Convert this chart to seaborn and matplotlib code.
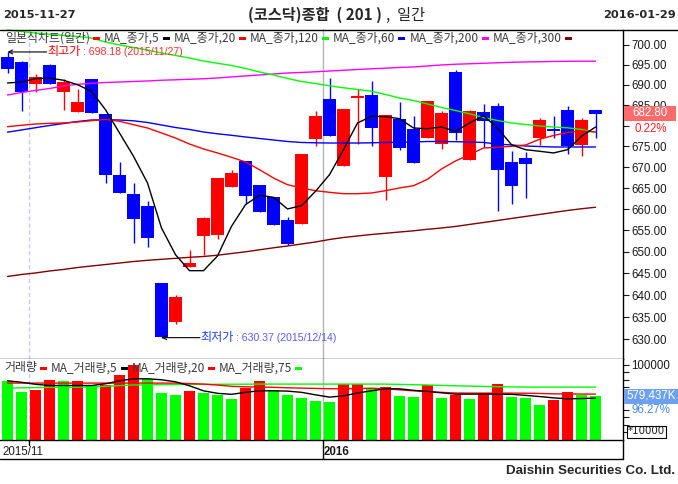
import numpy as np
import pandas as pd
import matplotlib
matplotlib.use("Agg")
import matplotlib.pyplot as plt
from matplotlib.patches import Rectangle
from matplotlib.lines import Line2D
from matplotlib.ticker import FixedLocator, NullLocator, FixedFormatter
import seaborn as sns

# ---------------- data ----------------
dates = ["2015-11-27", "2015-11-30",
         "2015-12-01", "2015-12-02", "2015-12-03", "2015-12-04", "2015-12-07",
         "2015-12-08", "2015-12-09", "2015-12-10", "2015-12-11", "2015-12-14",
         "2015-12-15", "2015-12-16", "2015-12-17", "2015-12-18", "2015-12-21",
         "2015-12-22", "2015-12-23", "2015-12-24", "2015-12-28", "2015-12-29",
         "2015-12-30",
         "2016-01-04", "2016-01-05", "2016-01-06", "2016-01-07", "2016-01-08",
         "2016-01-11", "2016-01-12", "2016-01-13", "2016-01-14", "2016-01-15",
         "2016-01-18", "2016-01-19", "2016-01-20", "2016-01-21", "2016-01-22",
         "2016-01-25", "2016-01-26", "2016-01-27", "2016-01-28", "2016-01-29"]

open_ = [696.86, 695.68, 690.30, 694.94, 688.33, 683.35, 691.47, 682.86, 668.20, 663.61,
         660.83, 642.88, 633.97, 646.57, 653.78, 653.94, 665.34, 671.55, 665.81, 662.96,
         657.46, 656.52, 676.78, 686.61, 670.35, 686.86, 687.52, 667.65, 681.72, 679.28,
         677.02, 675.65, 693.20, 671.72, 683.35, 684.81, 671.24, 672.20, 677.02, 679.28,
         683.91, 675.40, 683.91]
high = [698.18, 695.93, 692.63, 695.26, 691.39, 688.92, 691.47, 682.86, 671.24, 666.22,
        662.01, 642.88, 640.13, 650.44, 658.24, 667.41, 669.39, 671.55, 665.81, 662.96,
        658.24, 673.16, 683.52, 691.72, 684.08, 689.07, 690.90, 682.55, 685.80, 682.30,
        686.12, 683.67, 693.76, 683.91, 685.31, 685.55, 673.82, 673.65, 681.89, 682.30,
        684.74, 681.89, 683.91]
low = [692.87, 683.67, 688.18, 690.30, 683.84, 683.35, 683.18, 666.22, 663.84, 652.07,
       651.14, 630.37, 633.39, 646.57, 649.35, 653.00, 665.34, 661.47, 659.42, 656.36,
       651.54, 656.52, 675.03, 677.58, 670.35, 675.65, 675.03, 662.25, 674.20, 671.00,
       677.02, 674.44, 676.61, 671.72, 674.85, 659.65, 661.24, 662.66, 675.40, 677.02,
       673.24, 672.75, 677.02]
close = [694.02, 688.33, 691.97, 690.30, 690.73, 685.80, 683.18, 668.20, 663.84, 657.70,
         653.24, 630.50, 639.60, 647.36, 658.00, 667.41, 668.61, 663.20, 659.42, 656.36,
         651.84, 673.16, 682.38, 677.58, 684.08, 687.35, 679.45, 682.55, 674.61, 671.00,
         686.12, 683.18, 678.31, 683.60, 681.23, 669.39, 665.57, 670.83, 681.48, 678.79,
         675.16, 681.30, 682.80]

ma5 = [690.47, 690.72, 691.54, 691.72, 691.15, 690.05, 688.43, 683.91, 678.24, 672.61,
       666.22, 655.58, 649.35, 645.65, 645.65, 649.05, 655.98, 661.07, 663.30, 662.82,
       660.06, 660.83, 664.24, 668.20, 674.20, 680.67, 682.30, 682.21, 681.72, 679.45,
       679.28, 679.69, 678.65, 680.67, 682.45, 679.45, 675.40, 674.20, 673.82, 673.41,
       674.20, 677.44, 679.69]
ma20 = [679.77, 680.11, 680.42, 680.59, 680.67, 680.91, 681.23, 681.57, 681.08, 680.25,
        679.45, 678.24, 677.02, 675.57, 674.37, 673.41, 672.37, 671.24, 669.39, 667.41,
        665.81, 665.03, 664.38, 664.00, 663.67, 663.67, 663.84, 664.38, 665.03, 665.57,
        667.10, 669.56, 671.48, 672.99, 674.61, 674.78, 675.02, 675.33, 676.71, 677.63,
        678.36, 678.73, 678.48]
ma60 = [678.44, 678.97, 679.52, 680.06, 680.54, 681.03, 681.40, 681.45, 681.40, 681.20,
        680.79, 680.18, 679.57, 679.09, 678.48, 678.04, 677.68, 677.27, 676.90, 676.54,
        676.18, 675.94, 675.86, 675.81, 675.81, 675.81, 675.86, 675.94, 675.98, 676.06,
        676.18, 676.18, 676.13, 676.06, 675.94, 675.57, 675.33, 675.09, 674.97, 674.85,
        674.85, 674.85, 674.85]
ma120 = [703.69, 703.31, 702.93, 702.61, 702.31, 702.06, 701.68, 700.68, 699.93, 699.30,
         698.67, 697.92, 697.30, 696.68, 695.93, 695.36, 694.82, 694.07, 693.20, 692.46,
         691.59, 690.85, 690.35, 689.78, 689.29, 688.87, 688.43, 687.64, 686.78, 686.17,
         685.31, 684.45, 683.72, 682.91, 682.01, 681.28, 680.67, 680.30, 679.94, 679.69,
         679.50, 679.09, 678.41]
ma200 = [687.52, 688.13, 688.63, 689.12, 689.74, 690.15, 690.40, 690.60, 690.72, 690.85,
         690.97, 691.15, 691.27, 691.39, 691.52, 691.72, 691.97, 692.21, 692.46, 692.71,
         692.95, 693.08, 693.25, 693.44, 693.62, 693.82, 693.99, 694.14, 694.32, 694.44,
         694.69, 694.94, 695.12, 695.24, 695.36, 695.49, 695.61, 695.69, 695.74, 695.81,
         695.86, 695.88, 695.88]
ma300 = [644.31, 644.77, 645.12, 645.58, 645.93, 646.38, 646.73, 647.07, 647.42, 647.77,
         648.05, 648.28, 648.51, 648.74, 648.93, 649.23, 649.63, 650.02, 650.49, 650.95,
         651.38, 651.84, 652.31, 652.89, 653.36, 653.71, 654.06, 654.34, 654.64, 654.92,
         655.28, 655.58, 655.94, 656.41, 656.87, 657.34, 657.82, 658.29, 658.76, 659.23,
         659.70, 660.11, 660.46]

# volume in units of 10,000 shares
volume = [77714, 64384, 67050, 79047, 77714, 77981, 72382, 72649, 85712, 99500,
          80913, 63051, 60385, 65717, 63051, 60385, 55053, 69716, 77714, 67050,
          60385, 56386, 52387, 51054, 74248, 74515, 69716, 71049, 59052, 57719,
          72382, 56386, 60385, 54653, 62251, 74648, 57719, 56386, 46655, 53720,
          63984, 60189, 57943.7]
vma5 = [78647, 76648, 73982, 72382, 72382, 72382, 72382, 74648, 78647, 81313,
        81313, 79980, 77314, 71982, 65317, 61985, 60652, 63318, 65317, 65317,
        64917, 63318, 59985, 56919, 58652, 62384, 65317, 67983, 67983, 65984,
        64651, 62651, 60918, 60918, 60918, 60918, 60652, 59319, 57719, 55986,
        54653, 55053, 55586]
vma20 = [75581, 75581, 75581, 75581, 75581, 75581, 75581, 75581, 75581, 75581,
         75581, 75581, 75581, 74915, 74248, 72915, 71316, 70649, 70382, 69983,
         69316, 68916, 68516, 68116, 67983, 68250, 68783, 67983, 66650, 65317,
         63984, 63318, 62384, 62251, 62251, 62251, 62251, 62118, 61851, 61318,
         61185, 61051, 60918]
vma75 = [68916, 69316, 69583, 69849, 69983, 70116, 70249, 71316, 72249, 73048,
         73315, 73582, 73715, 73848, 73982, 73982, 74115, 74115, 74248, 74248,
         74248, 74248, 74248, 74248, 74248, 74248, 74248, 74248, 73848, 73448,
         73048, 72515, 71982, 71582, 71182, 70782, 70516, 70249, 70249, 70249,
         70249, 70249, 70249]

price_ticks = [630, 635, 640, 645, 650, 655, 660, 665, 670, 675, 680, 685, 690, 695, 700]
date_labels = ["2015/11", "2016"]

# ---------------- styling ----------------
sns.set_style("white")
CJK = ["Noto Sans CJK KR", "DejaVu Sans"]
plt.rcParams["font.family"] = CJK

W, H = 678, 484
fig = plt.figure(figsize=(W / 100, H / 100), dpi=100)
fig.patch.set_facecolor("white")


def fx(px):
    return px / W


def fy(py):
    return 1 - py / H


RIGHT = 622.7
P_TOP, P_BOT, V_BOT = 29.5, 358.7, 440.0
ax_p = fig.add_axes([0, fy(P_BOT), fx(RIGHT), (P_BOT - P_TOP) / H])
ax_v = fig.add_axes([0, fy(V_BOT), fx(RIGHT), (V_BOT - P_BOT) / H])

n = len(close)
idx = np.arange(n)
df = pd.DataFrame({"i": idx, "date": dates, "open": open_, "high": high, "low": low,
                   "close": close, "ma5": ma5, "ma20": ma20, "ma60": ma60,
                   "ma120": ma120, "ma200": ma200, "ma300": ma300,
                   "vol": volume, "vma5": vma5, "vma20": vma20, "vma75": vma75})
XL = (-7.5 / 14, (RIGHT - 7.5) / 14)

# month / year separators
month_sep = [i - 0.5 for i in range(1, n) if dates[i][5:7] != dates[i - 1][5:7]]
for ax in (ax_p, ax_v):
    ax.axvline(month_sep[0], color="#C8C8F0", lw=1, ls=(0, (3, 2)), zorder=0)
    ax.axvline(month_sep[-1], color="#B4B4B4", lw=1, zorder=0)

# ---------------- price panel ----------------
ax_p.set_yscale("log")
up = df["close"] >= df["open"]
cols = np.where(up, "#FF0000", "#0000FF")
ax_p.vlines(df["i"], df["low"], df["high"], colors=cols, lw=1.0, zorder=2)
body_bottom = np.minimum(df["open"], df["close"])
body_h = np.maximum(np.abs(df["close"] - df["open"]), 0.25)
ax_p.bar(df["i"], body_h, bottom=body_bottom, width=0.93, color=cols, lw=0, zorder=3)

for col, c in [("ma300", "#800000"), ("ma200", "#FF00FF"), ("ma120", "#00FF00"),
               ("ma60", "#0000FF"), ("ma20", "#FF0000"), ("ma5", "#000000")]:
    sns.lineplot(data=df, x="i", y=col, color=c, lw=1.0, ax=ax_p, zorder=4)

ax_p.set_xlim(*XL)
ax_p.set_ylim(625.64, 703.81)
# the 680 level sits under the current-value badge, so its label stays blank
price_labels = ["" if t == 680 else f"{t:.2f}" for t in price_ticks]
ax_p.yaxis.set_major_locator(FixedLocator(price_ticks))
ax_p.yaxis.set_major_formatter(FixedFormatter(price_labels))
ax_p.yaxis.set_minor_locator(NullLocator())
ax_p.yaxis.tick_right()
ax_p.tick_params(axis="y", direction="out", length=4, width=0.8, pad=2,
                 labelsize=8.3, labelcolor="#1a1a1a", colors="#1a1a1a")
for lab in ax_p.get_yticklabels():
    lab.set_family("Liberation Sans")
ax_p.set_xticks([])
ax_p.set_xlabel("")
ax_p.set_ylabel("")
for s in ("top", "left"):
    ax_p.spines[s].set_visible(False)
for s in ("right", "bottom"):
    ax_p.spines[s].set_color("black")
    ax_p.spines[s].set_linewidth(1)

# high / low annotations
i_hi = int(np.argmax(high))
i_lo = int(np.argmin(low))
ax_p.annotate("", xy=(i_hi, high[i_hi]), xytext=(i_hi + 2.8, high[i_hi]),
              arrowprops=dict(arrowstyle="->", color="black", lw=0.8,
                              shrinkA=0, shrinkB=0, mutation_scale=7))
t1 = ax_p.text(i_hi + 2.85, high[i_hi], "최고가", color="#FF0000", fontsize=8.7,
               va="center", ha="left")
ax_p.annotate("", xy=(i_lo, low[i_lo]), xytext=(i_lo + 2.75, low[i_lo]),
              arrowprops=dict(arrowstyle="->", color="black", lw=0.8,
                              shrinkA=0, shrinkB=0, mutation_scale=7))
t2 = ax_p.text(i_lo + 2.8, low[i_lo], "최저가", color="#2040FF", fontsize=8.7,
               va="center", ha="left")
fig.canvas.draw()
r = fig.canvas.get_renderer()
for t, txt, c in [(t1, f": {high[i_hi]:.2f} (2015/11/27)", "#FF3030"),
                  (t2, f": {low[i_lo]:.2f} (2015/12/14)", "#5A5AFF")]:
    bb = t.get_window_extent(renderer=r)
    fig.text(fx(bb.x1 + 2), bb.y0 / H + bb.height / H / 2 - 0.5 / H, txt, color=c,
             fontsize=7.6, family="Liberation Sans", va="center", ha="left")

# ---------------- volume panel ----------------
vol_dir = ["dn"] + ["up" if volume[k] > volume[k - 1] else "dn" for k in range(1, n)]
df["vdir"] = vol_dir
sns.barplot(data=df, x="i", y="vol", hue="vdir", palette={"up": "#FF0000", "dn": "#00FF00"},
            dodge=False, width=0.84, errorbar=None, legend=False, ax=ax_v,
            linewidth=0, saturation=1)
for col, c in [("vma75", "#00FF00"), ("vma20", "#FF0000"), ("vma5", "#000000")]:
    sns.lineplot(data=df, x="i", y=col, color=c, lw=1.0, ax=ax_v, zorder=4)
ax_v.set_xlim(*XL)
ax_v.set_ylim(0, 107973)
vt = list(range(10000, 100001, 10000))
ax_v.yaxis.set_major_locator(FixedLocator(vt))
ax_v.yaxis.set_major_formatter(FixedFormatter([""] * 9 + ["100000"]))
ax_v.yaxis.tick_right()
ax_v.tick_params(axis="y", direction="out", length=4, width=0.8, pad=2,
                 labelsize=8.3, labelcolor="#1a1a1a", colors="#1a1a1a")
for lab in ax_v.get_yticklabels():
    lab.set_family("Liberation Sans")
ax_v.set_xticks([])
ax_v.set_xlabel("")
ax_v.set_ylabel("")
for s in ("top", "left"):
    ax_v.spines[s].set_visible(False)
for s in ("right", "bottom"):
    ax_v.spines[s].set_color("black")
    ax_v.spines[s].set_linewidth(1)

# ---------------- frame lines and date row ----------------
def fline(x0, y0, x1, y1, c="black", lw=1.0):
    fig.add_artist(Line2D([fx(x0), fx(x1)], [fy(y0), fy(y1)], color=c, lw=lw,
                          transform=fig.transFigure))


fline(0, 29.5, W, 29.5)
fline(RIGHT, V_BOT, RIGHT, 459)
fline(0, 459, RIGHT, 459)
px_month = 7.5 + 14 * month_sep[0]
px_year = 7.5 + 14 * month_sep[-1]
fline(px_month, V_BOT, px_month, 445)
fline(px_year, V_BOT, px_year, 459)
fig.text(fx(2), fy(452), date_labels[0], fontsize=8.3, family="Liberation Sans",
         color="#1a1a1a", va="center", ha="left")
fig.text(fx(px_year + 1), fy(452), date_labels[1], fontsize=8.3, family="Liberation Sans",
         color="#1a1a1a", va="center", ha="left", weight="bold")

# ---------------- header / footer ----------------
fig.text(fx(3), fy(15), dates[0], fontsize=8.2, weight="bold", family="DejaVu Sans",
         va="center", ha="left")
fig.text(fx(676), fy(15), dates[-1], fontsize=8.2, weight="bold", family="DejaVu Sans",
         va="center", ha="right")
th = fig.text(fx(248), fy(15), "(코스닥)종합  ( 201 )", fontsize=11, weight="bold",
              va="center", ha="left")
fig.canvas.draw()
bb = th.get_window_extent(renderer=fig.canvas.get_renderer())
fig.text(fx(bb.x1 + 4), fy(15), ",  일간", fontsize=11, va="center", ha="left")
fig.text(fx(675), fy(471), "Daishin Securities Co. Ltd.", fontsize=9.6, weight="bold",
         family="Liberation Sans", va="center", ha="right")

# ---------------- legends ----------------
def legend_row(items, x0, y, size):
    rr = fig.canvas.get_renderer()
    x = x0
    for label, c in items:
        t = fig.text(fx(x), fy(y), label, fontsize=size, color="#3a3a3a",
                     va="center", ha="left")
        w = t.get_window_extent(renderer=rr).width
        x += w + 3
        fig.add_artist(Rectangle((fx(x), fy(y + 1.5)), 7 / W, 3 / H,
                                 transform=fig.transFigure, color=c, lw=0))
        x += 7 + 4


legend_row([("일본식차트(일간)", "#FF0000"), ("MA_종가,5", "#000000"),
            ("MA_종가,20", "#FF0000"), ("MA_종가,120", "#00FF00"),
            ("MA_종가,60", "#0000FF"), ("MA_종가,200", "#FF00FF"),
            ("MA_종가,300", "#800000")], 5, 38.5, 8.6)
legend_row([("거래량", "#FF0000"), ("MA_거래량,5", "#000000"),
            ("MA_거래량,20", "#FF0000"), ("MA_거래량,75", "#00FF00")], 4, 368, 8.6)

# ---------------- current value badges ----------------
chg = (close[-1] / close[-2] - 1) * 100
fig.add_artist(Rectangle((fx(624), fy(121)), 52 / W, 15 / H, transform=fig.transFigure,
                         color="#FF6B6B", lw=0))
fig.text(fx(650), fy(113.5), f"{close[-1]:.2f}", fontsize=8.3, color="white",
         family="Liberation Sans", va="center", ha="center")
fig.text(fx(651), fy(129), f"{chg:.2f}%", fontsize=8.3, color="#FF2020",
         family="Liberation Sans", va="center", ha="center")

vchg = volume[-1] / volume[-2] * 100
fig.add_artist(Rectangle((fx(624), fy(403.5)), 54 / W, 15 / H, transform=fig.transFigure,
                         color="#6EA0F0", lw=0))
fig.text(fx(651), fy(396), f"{volume[-1] * 10:,.0f}K", fontsize=8.3, color="white",
         family="Liberation Sans", va="center", ha="center")
fig.text(fx(651), fy(410), f"{vchg:.2f}%", fontsize=8.3,
         color="#4A86E8", family="Liberation Sans", va="center", ha="center")
fig.add_artist(Rectangle((fx(627), fy(438)), 38.5 / W, 12.5 / H, transform=fig.transFigure,
                         facecolor="white", edgecolor="black", lw=0.8))
fig.text(fx(646.5), fy(431.5), "*10000", fontsize=7.4, color="#1a1a1a",
         family="DejaVu Sans", va="center", ha="center")

fig.savefig("out.png", dpi=100, facecolor="white")
